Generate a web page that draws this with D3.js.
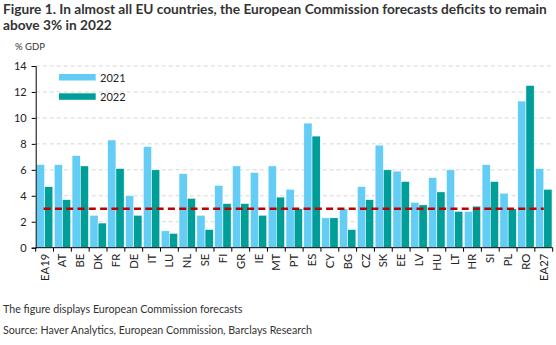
<!DOCTYPE html>
<html>
<head>
<meta charset="utf-8">
<script src="https://cdn.jsdelivr.net/npm/d3@7"></script>
<style>
  body { margin: 0; background: #fff; }
  text { font-family: Lato, "Noto Sans", sans-serif; }
</style>
</head>
<body>
<div id="chart"></div>
<script>
// countries on the x axis
var countries = ["EA19","AT","BE","DK","FR","DE","IT","LU","NL","SE","FI","GR","IE","MT","PT",
                 "ES","CY","BG","CZ","SK","EE","LV","HU","LT","HR","SI","PL","RO","EA27"];
// general government deficit, % GDP
var deficit2021 = [6.4,6.4,7.1,2.5,8.3,4.0,7.8,1.3,5.7,2.5,4.8,6.3,5.8,6.3,4.5,
                   9.6,2.3,3.0,4.7,7.9,5.9,3.5,5.4,6.0,2.8,6.4,4.2,11.3,6.1];
var deficit2022 = [4.7,3.7,6.3,1.9,6.1,2.5,6.0,1.1,3.8,1.4,3.4,3.4,2.5,3.9,3.0,
                   8.6,2.3,1.4,3.7,6.0,5.1,3.3,4.3,2.8,3.2,5.1,3.0,12.5,4.5];
var seriesNames = ["2021","2022"];
var yTicks = [0,2,4,6,8,10,12,14];
var threshold = 3;

var width = 556, height = 345;
var margin = { left: 35.7, right: 3.3, top: 66, bottom: 97.3 };
var colors = ["#63cdf6","#009e99"];

var svg = d3.select("#chart").append("svg")
    .attr("width", width)
    .attr("height", height);

// title
var title = svg.append("text")
    .attr("x", 3)
    .attr("y", 14)
    .style("font-size", "13.7px")
    .style("font-weight", "bold")
    .attr("fill", "#333");
title.append("tspan").attr("x", 3).attr("dy", 0)
    .text("Figure 1. In almost all EU countries, the European Commission forecasts deficits to remain");
title.append("tspan").attr("x", 3).attr("dy", 16)
    .text("above 3% in 2022");

var x = d3.scaleBand()
    .domain(countries)
    .range([margin.left, width - margin.right])
    .paddingInner(0.08)
    .paddingOuter(0.04);

var x1 = d3.scaleBand()
    .domain(seriesNames)
    .range([0, x.bandwidth()]);

var y = d3.scaleLinear()
    .domain([0, 14])
    .range([height - margin.bottom, margin.top]);

// dashed gridlines
svg.append("g")
    .selectAll("line")
    .data(yTicks.filter(function(d){ return d > 0; }))
    .join("line")
    .attr("x1", margin.left)
    .attr("x2", width - margin.right)
    .attr("y1", function(d){ return y(d); })
    .attr("y2", function(d){ return y(d); })
    .attr("stroke", "#d6d6d6")
    .attr("stroke-width", 1)
    .attr("stroke-dasharray", "4,3");

// bars
var rows = countries.map(function(c, i){
    return { country: c, values: [deficit2021[i], deficit2022[i]] };
});

var groups = svg.append("g")
    .selectAll("g")
    .data(rows)
    .join("g")
    .attr("transform", function(d){ return "translate(" + x(d.country) + ",0)"; });

groups.selectAll("rect")
    .data(function(d){ return d.values.map(function(v, j){ return { key: seriesNames[j], value: v, idx: j }; }); })
    .join("rect")
    .attr("x", function(d){ return x1(d.key); })
    .attr("width", x1.bandwidth())
    .attr("y", function(d){ return y(d.value); })
    .attr("height", function(d){ return y(0) - y(d.value); })
    .attr("fill", function(d){ return colors[d.idx]; })
    .attr("stroke", "#ffffff")
    .attr("stroke-width", 0.5);

// 3% reference line
svg.append("line")
    .attr("x1", x(countries[0]) + x.bandwidth() / 2 - 1)
    .attr("x2", x(countries[countries.length - 1]) + x.bandwidth() / 2)
    .attr("y1", y(threshold))
    .attr("y2", y(threshold))
    .attr("stroke", "#c00000")
    .attr("stroke-width", 2.5)
    .attr("stroke-dasharray", "7,4.3");

// y axis
var yAxis = svg.append("g")
    .attr("transform", "translate(" + margin.left + ",0)")
    .call(d3.axisLeft(y).tickValues(yTicks).tickSize(4).tickPadding(5));
yAxis.select(".domain").attr("stroke", "#000");
yAxis.selectAll(".tick line").attr("stroke", "#000");
yAxis.selectAll("text")
    .style("font-size", "11px")
    .style("font-family", "Lato, sans-serif")
    .attr("fill", "#222");

// x axis: ticks sit on category boundaries
var boundaries = d3.range(countries.length + 1).map(function(i){
    return margin.left + i * (width - margin.right - margin.left) / countries.length;
});
var xAxis = svg.append("g");
xAxis.append("line")
    .attr("x1", margin.left)
    .attr("x2", width - margin.right)
    .attr("y1", y(0))
    .attr("y2", y(0))
    .attr("stroke", "#000");
xAxis.selectAll(".btick")
    .data(boundaries)
    .join("line")
    .attr("class", "btick")
    .attr("x1", function(d){ return d; })
    .attr("x2", function(d){ return d; })
    .attr("y1", y(0))
    .attr("y2", y(0) + 4)
    .attr("stroke", "#000");
xAxis.selectAll(".xlabel")
    .data(countries)
    .join("text")
    .attr("class", "xlabel")
    .attr("transform", function(d){
        return "translate(" + (x(d) + x.bandwidth() / 2 + 4) + "," + (y(0) + 6) + ") rotate(-90)";
    })
    .attr("text-anchor", "end")
    .style("font-size", "11.3px")
    .attr("fill", "#222")
    .text(function(d){ return d; });

// unit label
svg.append("text")
    .attr("x", 15)
    .attr("y", 50)
    .style("font-size", "9.5px")
    .attr("fill", "#333")
    .text("% GDP");

// legend
var legend = svg.append("g");
seriesNames.forEach(function(name, i){
    legend.append("rect")
        .attr("x", 59)
        .attr("y", 74 + i * 19.3)
        .attr("width", 36.7)
        .attr("height", 6.5)
        .attr("fill", colors[i]);
    legend.append("text")
        .attr("x", 100)
        .attr("y", 81.5 + i * 19.3)
        .style("font-size", "11px")
        .attr("fill", "#222")
        .text(name);
});

// notes
svg.append("text")
    .attr("x", 3)
    .attr("y", 313)
    .style("font-size", "10.7px")
    .attr("fill", "#333")
    .text("The figure displays European Commission forecasts");
svg.append("text")
    .attr("x", 3)
    .attr("y", 334)
    .style("font-size", "10.7px")
    .attr("fill", "#333")
    .text("Source: Haver Analytics, European Commission, Barclays Research");
</script>
</body>
</html>
